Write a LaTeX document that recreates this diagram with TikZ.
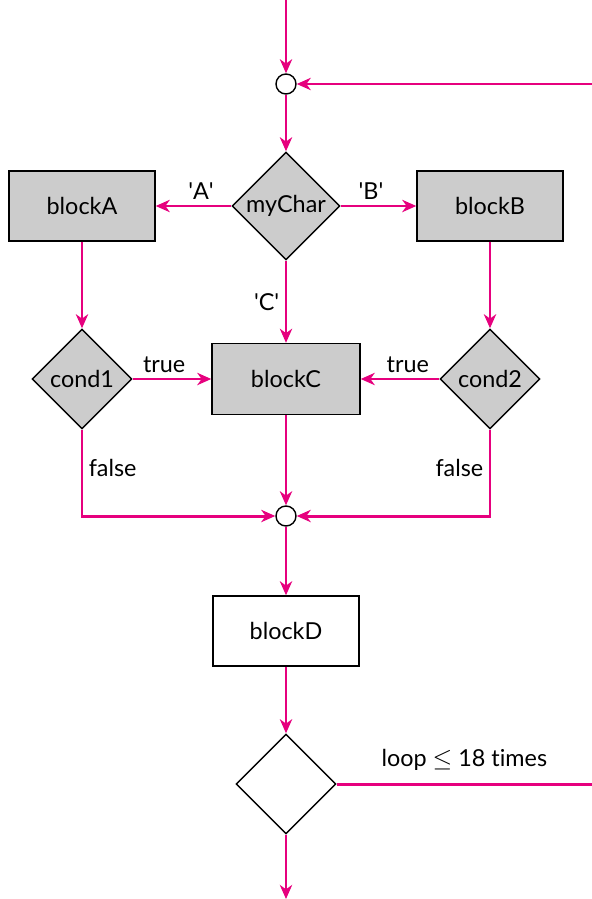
\documentclass[tikz,border=0pt]{standalone}
\usepackage{fontspec}
\setmainfont{Lato}[Ligatures={NoCommon}]
\usetikzlibrary{arrows.meta, positioning, shapes.geometric}
\definecolor{flowpink}{RGB}{230,0,126}
\definecolor{boxgray}{RGB}{204,204,204}

\begin{document}
\begin{tikzpicture}[
    on grid,
    every node/.style={font=\fontsize{13.3}{15}\selectfont},
    procbox/.style={draw, line width=0.8pt, minimum width=2.92cm, minimum height=1.4cm, fill=boxgray},
    decision/.style={draw, diamond, aspect=1, inner sep=0pt, line width=0.8pt, minimum size=2cm, fill=boxgray},
    junction/.style={draw, circle, line width=0.8pt, minimum size=0.4cm, inner sep=0pt, fill=white},
    arr/.style={-{Stealth[length=8pt, width=7pt, inset=2.5pt]}, line width=1.7pt, draw=flowpink},
    wire/.style={line width=1.7pt, draw=flowpink},
    elabel/.style={inner sep=3pt}
  ]
  \useasboundingbox (0,0) rectangle (11.84,-17.98);

  % --- Entry and loop-back merge ---
  \coordinate (entry) at (5.72,0);
  \coordinate (loopback) at (11.84,-1.68);
  \node[junction] (join1) at (5.72,-1.68) {};

  % --- Switch on myChar ---
  \node[decision, minimum size=2.16cm, below=2.44cm of join1] (mychar) {myChar};
  \node[procbox, left=4.08cm of mychar] (blocka) {blockA};
  \node[procbox, right=4.08cm of mychar] (blockb) {blockB};
  \node[procbox, minimum width=2.96cm, minimum height=1.42cm, below=3.46cm of mychar] (blockc) {blockC};
  \node[decision, left=4.08cm of blockc] (cond1) {cond1};
  \node[decision, right=4.08cm of blockc] (cond2) {cond2};

  % --- Merge and loop test ---
  \node[junction, below=2.74cm of blockc] (join2) {};
  \node[procbox, fill=white, below=2.30cm of join2] (blockd) {blockD};
  \node[decision, fill=white, below=3.06cm of blockd] (looptest) {};
  \coordinate (loopout) at (looptest -| loopback);
  \coordinate (exit) at (5.72,-17.98);

  % --- Arrows ---
  \draw[arr] (entry) -- (join1);
  \draw[arr] (loopback) -- (join1);
  \draw[arr] (join1) -- (mychar);
  \draw[arr] (mychar) -- node[elabel, above, pos=0.4] {\textquotesingle A\textquotesingle} (blocka);
  \draw[arr] (mychar) -- node[elabel, above, pos=0.4] {\textquotesingle B\textquotesingle} (blockb);
  \draw[arr] (mychar) -- node[elabel, left] {\textquotesingle C\textquotesingle} (blockc);
  \draw[arr] (blocka) -- (cond1);
  \draw[arr] (blockb) -- (cond2);
  \draw[arr] (cond1) -- node[elabel, above, pos=0.4] {true} (blockc);
  \draw[arr] (cond2) -- node[elabel, above, pos=0.4] {true} (blockc);
  \draw[arr] (cond1) |- node[elabel, right, pos=0.22] {false} (join2);
  \draw[arr] (cond2) |- node[elabel, left, pos=0.22] {false} (join2);
  \draw[arr] (blockc) -- (join2);
  \draw[arr] (join2) -- (blockd);
  \draw[arr] (blockd) -- (looptest);
  \draw[wire] (looptest) -- node[elabel, above, inner sep=7pt] {loop $\leq$ 18 times} (loopout);
  \draw[arr] (looptest) -- (exit);

\end{tikzpicture}
\end{document}
